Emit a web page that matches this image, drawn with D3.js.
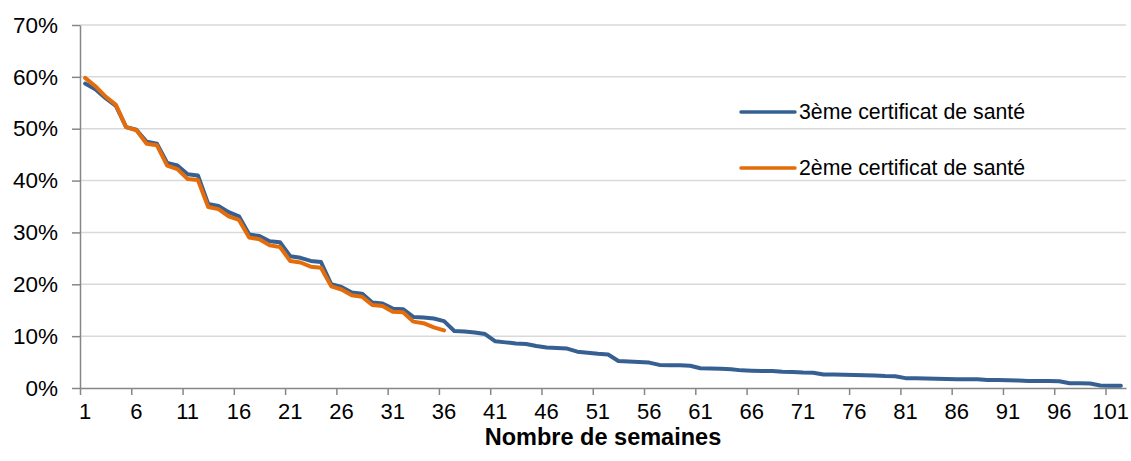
<!doctype html>
<html>
<head>
<meta charset="utf-8" />
<script src="https://d3js.org/d3.v7.min.js"></script>
<style>
  body { margin: 0; background: #fff; }
  text { font-family: "Liberation Sans", Arial, sans-serif; fill: #000; }
</style>
</head>
<body>
<div id="chart"></div>
<script>

// % of children still without the certificate, week by week
var certif3 = [58.7, 57.6, 55.9, 54.4, 50.3, 49.8, 47.5, 47.1, 43.4, 42.9,
  41.2, 41.0, 35.5, 35.1, 33.9, 33.1, 29.6, 29.3, 28.3, 28.1,
  25.4, 25.1, 24.5, 24.3, 20.0, 19.5, 18.4, 18.2, 16.5, 16.3,
  15.3, 15.2, 13.7, 13.6, 13.4, 12.9, 11.0, 10.9, 10.7, 10.4,
  9.0, 8.8, 8.6, 8.5, 8.1, 7.8, 7.7, 7.6, 7.0, 6.8,
  6.6, 6.45, 5.2, 5.1, 5.0, 4.9, 4.45, 4.4, 4.4, 4.3,
  3.8, 3.75, 3.7, 3.6, 3.4, 3.35, 3.3, 3.3, 3.15, 3.1,
  3.0, 2.95, 2.6, 2.6, 2.55, 2.5, 2.45, 2.4, 2.3, 2.25,
  1.9, 1.9, 1.85, 1.8, 1.75, 1.7, 1.7, 1.7, 1.55, 1.55,
  1.5, 1.45, 1.35, 1.35, 1.35, 1.3, 0.9, 0.9, 0.85, 0.5,
  0.45, 0.45];
var certif2 = [59.8, 58.2, 56.2, 54.6, 50.3, 49.7, 47.1, 46.8, 42.9, 42.2,
  40.3, 40.1, 34.9, 34.5, 33.1, 32.4, 29.0, 28.7, 27.5, 27.2,
  24.5, 24.2, 23.4, 23.2, 19.6, 19.0, 17.9, 17.6, 16.0, 15.8,
  14.7, 14.6, 12.8, 12.5, 11.7, 11.1];
var seriesNames = ["3ème certificat de santé", "2ème certificat de santé"];
var yTicks = [0, 10, 20, 30, 40, 50, 60, 70];
var xLabelWeeks = d3.range(1, 102, 5);
var nWeeks = certif3.length;

var W = 1131, H = 461;
var mLeft = 80, mRight = 1126, mTop = 25, mBottom = 388;

var svg = d3.select("#chart").append("svg").attr("width", W).attr("height", H);

var x = d3.scaleLinear().domain([0.5, nWeeks + 0.5]).range([mLeft, mRight]);
var y = d3.scaleLinear().domain([0, 70]).range([mBottom, mTop]);

// gridlines
svg.append("g").selectAll("line").data(yTicks.slice(1)).enter().append("line")
  .attr("x1", mLeft).attr("x2", mRight)
  .attr("y1", d => y(d)).attr("y2", d => y(d))
  .attr("stroke", "#d9d9d9").attr("stroke-width", 1.5);

// y axis
var yAxis = svg.append("g").attr("transform", "translate(" + mLeft + ",0)")
  .call(d3.axisLeft(y).tickValues(yTicks).tickFormat(d => d + "%").tickSize(8).tickSizeOuter(0).tickPadding(14));
yAxis.select(".domain").attr("stroke", "#868686").attr("stroke-width", 1.5);
yAxis.selectAll(".tick line").attr("stroke", "#868686").attr("stroke-width", 1.5);
yAxis.selectAll("text").style("font-size", "22.5px").attr("fill", "#000")
  .attr("font-family", null);

// x axis: ticks between categories, labels on categories
var xAxis = svg.append("g").attr("transform", "translate(0," + mBottom + ")")
  .call(d3.axisBottom(x).tickValues(d3.range(0.5, nWeeks, 5)).tickFormat("").tickSize(7).tickSizeOuter(0));
xAxis.select(".domain").attr("stroke", "#868686").attr("stroke-width", 1.5);
xAxis.selectAll(".tick line").attr("stroke", "#868686").attr("stroke-width", 1.5);

svg.append("g").selectAll("text").data(xLabelWeeks).enter().append("text")
  .attr("x", d => x(d)).attr("y", 419)
  .attr("text-anchor", "middle")
  .style("font-size", "22px")
  .text(d => d);

svg.append("text")
  .attr("x", (mLeft + mRight) / 2).attr("y", 445)
  .attr("text-anchor", "middle")
  .style("font-size", "23.5px").style("font-weight", "bold")
  .text("Nombre de semaines");

var line = d3.line().x((d, i) => x(i + 1)).y(d => y(d));
var colors = ["#376092", "#e46c0a"];

[certif3, certif2].forEach(function(s, k) {
  svg.append("path").datum(s)
    .attr("d", line)
    .attr("fill", "none")
    .attr("stroke", colors[k])
    .attr("stroke-width", 4)
    .attr("stroke-linejoin", "round")
    .attr("stroke-linecap", "round");
});

// legend
var legend = svg.append("g").selectAll("g").data(seriesNames).enter().append("g")
  .attr("transform", (d, i) => "translate(741," + (112 + i * 56) + ")");
legend.append("line").attr("x1", 0).attr("x2", 54)
  .attr("stroke", (d, i) => colors[i]).attr("stroke-width", 3.5).attr("stroke-linecap", "round");
legend.append("text").attr("x", 58).attr("dy", "0.35em")
  .style("font-size", "21.3px").text(d => d);

</script>
</body>
</html>
